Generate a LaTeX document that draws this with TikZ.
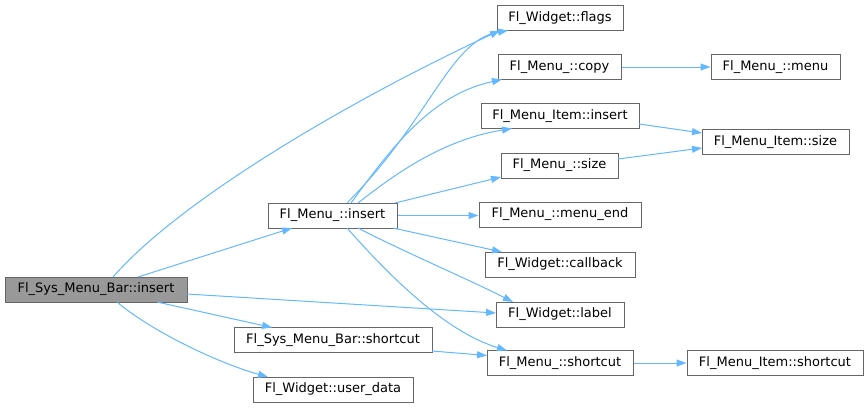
\documentclass[tikz,border=0pt]{standalone}
\usepackage{fontspec}
\setmainfont{DejaVu Sans}
\usetikzlibrary{arrows.meta,calc}
\definecolor{edgeblue}{HTML}{63B8FF}
\definecolor{boxgray}{HTML}{666666}
\definecolor{fillgray}{HTML}{999999}
\begin{document}
\begin{tikzpicture}[x=1pt,y=-1pt,
  fn/.style={draw=boxgray,line width=1pt,fill=white,minimum height=25pt,inner sep=0pt,
    font=\fontsize{13}{15}\selectfont,text=black},
  cur/.style={fn,fill=fillgray},
  edge/.style={draw=edgeblue,line width=1pt,-{Triangle[length=10pt,width=7pt]}}]
\useasboundingbox (0,0) rectangle (868,408);
% nodes
\node[cur,minimum width=182pt] (sysins) at (96,289.5) {Fl\_Sys\_Menu\_Bar::insert};
\node[fn,minimum width=129pt] (mins) at (332.5,215.5) {Fl\_Menu\_::insert};
\node[fn,minimum width=126pt] (flags) at (560,18) {Fl\_Widget::flags};
\node[fn,minimum width=123pt] (copy) at (559.5,67) {Fl\_Menu\_::copy};
\node[fn,minimum width=129pt] (menu) at (775.5,67) {Fl\_Menu\_::menu};
\node[fn,minimum width=158pt] (itemins) at (560,116) {Fl\_Menu\_Item::insert};
\node[fn,minimum width=147pt] (itemsize) at (775.5,142) {Fl\_Menu\_Item::size};
\node[fn,minimum width=117pt] (msize) at (559.5,165.5) {Fl\_Menu\_::size};
\node[fn,minimum width=162pt] (menuend) at (560,214.5) {Fl\_Menu\_::menu\_end};
\node[fn,minimum width=150pt] (callback) at (560,264.5) {Fl\_Widget::callback};
\node[fn,minimum width=128pt] (label) at (560,314.5) {Fl\_Widget::label};
\node[fn,minimum width=198pt] (sysshort) at (333,340) {Fl\_Sys\_Menu\_Bar::shortcut};
\node[fn,minimum width=146pt] (mshort) at (560,363) {Fl\_Menu\_::shortcut};
\node[fn,minimum width=176pt] (itemshort) at (775,363) {Fl\_Menu\_Item::shortcut};
\node[fn,minimum width=160pt] (userdata) at (333,389.5) {Fl\_Widget::user\_data};
% edges from Fl_Sys_Menu_Bar::insert
\draw[edge] ($(sysins.center)+(17,-12.5)$) .. controls (180,200) and (350,100) .. ($(flags.center)+(-60,12.5)$);
\draw[edge] ($(sysins.center)+(42,-12.5)$) -- ($(mins.center)+(-40.5,12.5)$);
\draw[edge] ($(sysins.center)+(91,4.5)$) -- ($(label.center)+(-64,-1.5)$);
\draw[edge] ($(sysins.center)+(61,12.5)$) -- ($(sysshort.center)+(-61,-12.5)$);
\draw[edge] ($(sysins.center)+(21,12.5)$) .. controls (150,330) and (215,362) .. ($(userdata.center)+(-65,-12.5)$);
% edges from Fl_Menu_::insert
\draw[edge] ($(mins.center)+(14.5,-12.5)$) .. controls (430,120) and (450,40) .. ($(flags.center)+(-52,12.5)$);
\draw[edge] ($(mins.center)+(18.5,-12.5)$) .. controls (390,150) and (430,95) .. ($(copy.center)+(-57.5,12.5)$);
\draw[edge] ($(mins.center)+(25.5,-12.5)$) .. controls (390,178) and (440,140) .. ($(itemins.center)+(-48,12.5)$);
\draw[edge] ($(mins.center)+(62.5,-12.5)$) -- ($(msize.center)+(-58.5,11.5)$);
\draw[edge] (mins.east) -- (mins.east -| menuend.west);
\draw[edge] ($(mins.center)+(60.5,12.5)$) -- ($(callback.center)+(-58,-12.5)$);
\draw[edge] ($(mins.center)+(25.5,12.5)$) .. controls (400,250) and (470,280) .. ($(label.center)+(-47,-12.5)$);
\draw[edge] ($(mins.center)+(14.5,12.5)$) .. controls (380,265) and (440,330) .. ($(mshort.center)+(-53,-12.5)$);
% other edges
\draw[edge] (copy.east) -- (menu.west);
\draw[edge] ($(itemins.center)+(79,8)$) -- ($(itemsize.center)+(-73.5,-9)$);
\draw[edge] ($(msize.center)+(58.5,-6.5)$) -- ($(itemsize.center)+(-73.5,6)$);
\draw[edge] ($(sysshort.center)+(99,11)$) -- ($(mshort.center)+(-73,-7.5)$);
\draw[edge] (mshort.east) -- (itemshort.west);
\end{tikzpicture}
\end{document}
